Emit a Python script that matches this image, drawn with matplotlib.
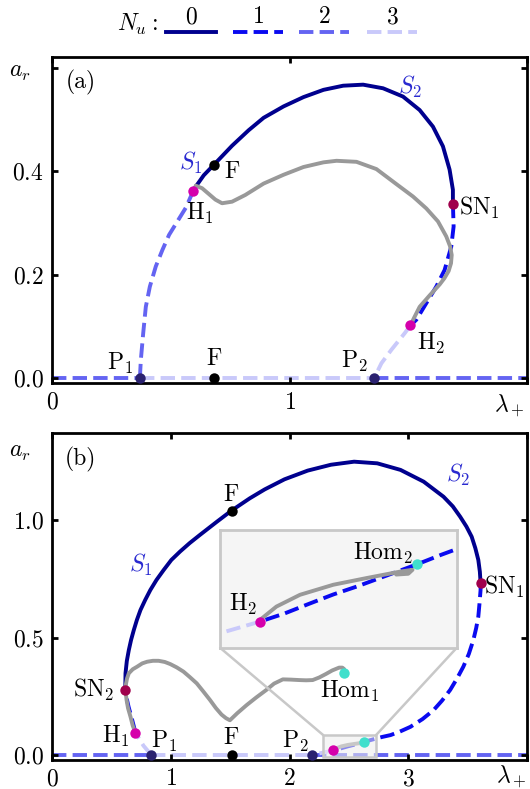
import matplotlib
matplotlib.use("Agg")
import matplotlib.pyplot as plt
from matplotlib.lines import Line2D
from matplotlib.patches import Rectangle, ConnectionPatch

plt.rcParams['font.family'] = 'serif'
plt.rcParams['font.serif'] = ['cmr10', 'DejaVu Serif']
plt.rcParams['mathtext.fontset'] = 'cm'
plt.rcParams['axes.formatter.use_mathtext'] = True

# ---------------- colours ----------------
C_NU = {0: '#00008e', 1: '#0a0af0', 2: '#6464f2', 3: '#c9c9fa'}
LS_NU = {0: '-', 1: '--', 2: '--', 3: '--'}
C_GRAY = '#999999'
C_F, C_H, C_SN, C_P, C_HOM = '#000000', '#d500ab', '#a0004c', '#2b2270', '#40dfcc'
C_S = '#2a2ad0'

# ---------------- panel (a) data ----------------
a_base_lam = [0.0, 0.370, 1.356, 2.0]
a_base_nu = [2, 3, 2]

a_p1h1_lam = [0.370, 0.374, 0.384, 0.395, 0.412, 0.437, 0.465, 0.493, 0.528, 0.563, 0.595]
a_p1h1_amp = [0.0, 0.035, 0.087, 0.138, 0.177, 0.216, 0.248, 0.277, 0.303, 0.329, 0.362]

a_h1sn1_lam = [0.595, 0.605, 0.639, 0.681, 0.758, 0.828, 0.891, 0.975, 1.059, 1.143, 1.226,
               1.310, 1.394, 1.478, 1.548, 1.604, 1.646, 1.674, 1.688, 1.688]
a_h1sn1_amp = [0.362, 0.370, 0.392, 0.412, 0.449, 0.479, 0.503, 0.525, 0.543, 0.557, 0.565,
               0.567, 0.560, 0.544, 0.518, 0.486, 0.448, 0.403, 0.364, 0.337]

a_sn1h2_lam = [1.688, 1.691, 1.681, 1.653, 1.618, 1.576, 1.534, 1.509]
a_sn1h2_amp = [0.337, 0.293, 0.254, 0.209, 0.177, 0.145, 0.113, 0.102]

a_h2p2_lam = [1.509, 1.485, 1.429, 1.387, 1.356]
a_h2p2_amp = [0.102, 0.087, 0.055, 0.029, 0.0]

a_po_lam = [0.605, 0.632, 0.660, 0.688, 0.716, 0.758, 0.814, 0.891, 0.975, 1.059, 1.143, 1.198,
            1.282, 1.366, 1.450, 1.520, 1.576, 1.625, 1.660, 1.676, 1.683, 1.680, 1.670, 1.652,
            1.632, 1.590, 1.548, 1.527, 1.513]
a_po_amp = [0.372, 0.367, 0.356, 0.345, 0.338, 0.341, 0.354, 0.376, 0.393, 0.408, 0.417, 0.420,
            0.418, 0.404, 0.375, 0.351, 0.328, 0.303, 0.274, 0.255, 0.238, 0.222, 0.207, 0.193,
            0.181, 0.160, 0.138, 0.119, 0.106]

a_pts = {  # name: (lam, amp, colour, label, offset)
    'F1': (0.681, 0.412, C_F, r'$\mathrm{F}$', (13, -5)),
    'H1': (0.595, 0.362, C_H, r'$\mathrm{H}_1$', (5, -16)),
    'P1': (0.370, 0.0, C_P, r'$\mathrm{P}_1$', (-14, 11)),
    'F0': (0.681, 0.0, C_F, r'$\mathrm{F}$', (0, 14)),
    'SN1': (1.688, 0.337, C_SN, r'$\mathrm{SN}_1$', (19, -3)),
    'H2': (1.509, 0.102, C_H, r'$\mathrm{H}_2$', (15, -13)),
    'P2': (1.356, 0.0, C_P, r'$\mathrm{P}_2$', (-14, 12)),
}

# ---------------- panel (b) data ----------------
b_base_lam = [0.0, 0.837, 2.19, 4.0]
b_base_nu = [2, 3, 2]

b_p1h1_lam = [0.837, 0.77, 0.703]
b_p1h1_amp = [0.0, 0.04, 0.095]

b_h1sn2_lam = [0.703, 0.675, 0.645, 0.625, 0.617]
b_h1sn2_amp = [0.095, 0.150, 0.205, 0.250, 0.277]

b_sn2sn1_lam = [0.617, 0.619, 0.630, 0.647, 0.666, 0.689, 0.715, 0.745, 0.785, 0.828, 0.880,
                0.940, 1.005, 1.079, 1.160, 1.247, 1.387, 1.512, 1.665, 1.791, 1.958, 2.153,
                2.349, 2.544, 2.739, 2.935, 3.130, 3.297, 3.375, 3.437, 3.490, 3.534, 3.565,
                3.590, 3.603, 3.609]
b_sn2sn1_amp = [0.277, 0.348, 0.400, 0.447, 0.490, 0.532, 0.575, 0.617, 0.660, 0.702, 0.745,
                0.787, 0.830, 0.866, 0.902, 0.937, 0.992, 1.040, 1.092, 1.130, 1.173, 1.210,
                1.235, 1.248, 1.241, 1.213, 1.163, 1.099, 1.058, 1.014, 0.972, 0.929, 0.880,
                0.830, 0.780, 0.733]

b_sn1h2_lam = [3.609, 3.609, 3.600, 3.590, 3.572, 3.548, 3.510, 3.464, 3.410, 3.353, 3.285,
               3.213, 3.120, 3.018, 2.930, 2.851, 2.780, 2.720, 2.670, 2.630, 2.580, 2.530,
               2.491, 2.450, 2.410, 2.370]
b_sn1h2_amp = [0.733, 0.702, 0.645, 0.589, 0.540, 0.489, 0.430, 0.376, 0.325, 0.277, 0.232,
               0.191, 0.153, 0.120, 0.100, 0.085, 0.077, 0.069, 0.062, 0.056, 0.049, 0.042,
               0.037, 0.031, 0.025, 0.020]

b_h2p2_lam = [2.37, 2.304, 2.25, 2.19]
b_h2p2_amp = [0.020, 0.0127, 0.007, 0.0]

b_po1_lam = [0.703, 0.680, 0.661, 0.640, 0.628, 0.620, 0.622, 0.632, 0.647, 0.680, 0.717, 0.760,
             0.801, 0.850, 0.898, 0.950, 0.996, 1.050, 1.107, 1.160, 1.219, 1.275, 1.331, 1.380,
             1.428, 1.465, 1.498, 1.560, 1.640, 1.720, 1.805, 1.870, 1.944, 2.010, 2.084, 2.140,
             2.195, 2.250, 2.307, 2.360, 2.418, 2.445, 2.460]
b_po1_amp = [0.095, 0.125, 0.163, 0.200, 0.234, 0.270, 0.300, 0.326, 0.348, 0.365, 0.376, 0.390,
             0.397, 0.401, 0.401, 0.396, 0.387, 0.373, 0.355, 0.332, 0.305, 0.270, 0.234, 0.200,
             0.172, 0.157, 0.148, 0.178, 0.213, 0.245, 0.277, 0.304, 0.322, 0.321, 0.319, 0.318,
             0.319, 0.330, 0.345, 0.360, 0.372, 0.372, 0.366]

b_po2_lam = [2.370, 2.397, 2.436, 2.491, 2.546, 2.602, 2.622, 2.615, 2.595]
b_po2_amp = [0.0211, 0.0294, 0.0368, 0.0431, 0.0473, 0.0514, 0.0525, 0.0500, 0.0495]

b_pts = {
    'F1': (1.512, 1.040, C_F, r'$\mathrm{F}$', (0, 11)),
    'SN2': (0.617, 0.277, C_SN, r'$\mathrm{SN}_2$', (-23, 0)),
    'H1': (0.703, 0.095, C_H, r'$\mathrm{H}_1$', (-14, -3)),
    'P1': (0.837, 0.0, C_P, r'$\mathrm{P}_1$', (9, 10)),
    'F0': (1.512, 0.0, C_F, r'$\mathrm{F}$', (0, 12)),
    'SN1': (3.609, 0.733, C_SN, r'$\mathrm{SN}_1$', (17, -3)),
    'Hom1': (2.460, 0.348, C_HOM, r'$\mathrm{Hom}_1$', (4, -13)),
    'P2': (2.19, 0.0, C_P, r'$\mathrm{P}_2$', (-12, 10)),
    'H2': (2.37, 0.020, C_H, None, None),
    'Hom2': (2.630, 0.056, C_HOM, None, None),
}
inset_pts = {'H2': (r'$\mathrm{H}_2$', (-12, 12)), 'Hom2': (r'$\mathrm{Hom}_2$', (-25, 8))}

LW = 2.8
MS = 7.5
FS = 17

W, H = 530, 789
fig = plt.figure(figsize=(W / 100, H / 100), dpi=100)


def px_box(x0, y0, x1, y1):
    return [x0 / W, 1 - y1 / H, (x1 - x0) / W, (y1 - y0) / H]


ax_a = fig.add_axes(px_box(52, 56.7, 527, 383.3))
ax_b = fig.add_axes(px_box(52, 433, 527, 760))


def seg(ax, lam, amp, nu, z=2):
    ax.plot(lam, amp, color=C_NU[nu], ls=LS_NU[nu], lw=LW, zorder=z, dash_capstyle='butt',
            solid_joinstyle='round')


def baseline(ax, lams, nus):
    for i, nu in enumerate(nus):
        seg(ax, [lams[i], lams[i + 1]], [0, 0], nu, z=1.5)


def style(ax):
    for s in ax.spines.values():
        s.set_linewidth(2.0)
    ax.tick_params(direction='in', length=4.5, width=2.0, top=True, right=True,
                   labelsize=FS, pad=6)


def gray(ax, lam, amp):
    ax.plot(lam, amp, color=C_GRAY, lw=LW, zorder=3, solid_capstyle='round',
            solid_joinstyle='round')


# ---- panel (a)
ax = ax_a
baseline(ax, a_base_lam, a_base_nu)
seg(ax, a_p1h1_lam, a_p1h1_amp, 2)
seg(ax, a_h1sn1_lam, a_h1sn1_amp, 0)
seg(ax, a_sn1h2_lam, a_sn1h2_amp, 1)
seg(ax, a_h2p2_lam, a_h2p2_amp, 3)
gray(ax, a_po_lam, a_po_amp)
for k, (x, y, c, lab, off) in a_pts.items():
    ax.plot(x, y, 'o', color=c, ms=MS, zorder=5, mec='none')
    ax.annotate(lab, (x, y), xytext=off, textcoords='offset points', ha='center', va='center', fontsize=FS)
ax.text(0.585, 0.415, r'$S_1$', color=C_S, fontsize=FS, ha='center', va='center')
ax.text(1.506, 0.563, r'$S_2$', color=C_S, fontsize=FS, ha='center', va='center')
ax.set_xlim(0, 2.0)
ax.set_ylim(-0.0097, 0.621)
ax.set_xticks([0, 1, 2])
ax.set_xticklabels(['$0$', '$1$', ''])
ax.set_yticks([0, 0.2, 0.4, 0.6])
ax.set_yticklabels(['$0.0$', '$0.2$', '$0.4$', ''])
style(ax)
ax.text(0.963, -0.07, r'$\lambda_+$', transform=ax.transAxes, fontsize=FS, ha='center', va='center')
ax.text(-0.068, 0.954, r'$a_r$', transform=ax.transAxes, fontsize=FS, ha='center', va='center')
ax.text(0.06, 0.92, '(a)', transform=ax.transAxes, fontsize=FS, ha='center', va='center')


# ---- panel (b)
def draw_b(ax):
    baseline(ax, b_base_lam, b_base_nu)
    seg(ax, b_p1h1_lam, b_p1h1_amp, 3)
    seg(ax, b_h1sn2_lam, b_h1sn2_amp, 1)
    seg(ax, b_sn2sn1_lam, b_sn2sn1_amp, 0)
    seg(ax, b_sn1h2_lam, b_sn1h2_amp, 1)
    seg(ax, b_h2p2_lam, b_h2p2_amp, 3)
    gray(ax, b_po1_lam, b_po1_amp)
    gray(ax, b_po2_lam, b_po2_amp)


ax = ax_b
draw_b(ax)
for k, (x, y, c, lab, off) in b_pts.items():
    ax.plot(x, y, 'o', color=c, ms=MS, zorder=6, mec='none')
    if lab:
        ax.annotate(lab, (x, y), xytext=off, textcoords='offset points', ha='center', va='center', fontsize=FS)
ax.text(0.745, 0.809, r'$S_1$', color=C_S, fontsize=FS, ha='center', va='center')
ax.text(3.423, 1.191, r'$S_2$', color=C_S, fontsize=FS, ha='center', va='center')
ax.set_xlim(0, 4.0)
ax.set_ylim(-0.021, 1.37)
ax.set_xticks([0, 1, 2, 3, 4])
ax.set_xticklabels(['$0$', '$1$', '$2$', '$3$', ''])
ax.set_yticks([0, 0.5, 1.0])
ax.set_yticklabels(['$0.0$', '$0.5$', '$1.0$'])
style(ax)
ax.text(0.966, -0.05, r'$\lambda_+$', transform=ax.transAxes, fontsize=FS, ha='center', va='center')
ax.text(-0.068, 0.943, r'$a_r$', transform=ax.transAxes, fontsize=FS, ha='center', va='center')
ax.text(0.06, 0.92, '(b)', transform=ax.transAxes, fontsize=FS, ha='center', va='center')

# zoom rectangle in main axes
rx0, rx1, ry0, ry1 = 2.284, 2.729, -0.007, 0.085
ax.add_patch(Rectangle((rx0, ry0), rx1 - rx0, ry1 - ry0, facecolor='#eeeeee', alpha=0.55,
                       edgecolor='none', zorder=4))
ax.add_patch(Rectangle((rx0, ry0), rx1 - rx0, ry1 - ry0, facecolor='none',
                       edgecolor='#c8c8c8', lw=1.8, zorder=4.1))

axins = ax.inset_axes([0.354, 0.343, 0.498, 0.361])
axins.set_facecolor('#f5f5f5')
draw_b(axins)
for k in ['H2', 'Hom2']:
    x, y, c, _, _ = b_pts[k]
    axins.plot(x, y, 'o', color=c, ms=MS, zorder=6, mec='none')
    lab, off = inset_pts[k]
    axins.annotate(lab, (x, y), xytext=off, textcoords='offset points', ha='center', va='center', fontsize=FS)
axins.set_xlim(2.304, 2.695)
axins.set_ylim(0.0035, 0.0776)
axins.set_xticks([])
axins.set_yticks([])
for s in axins.spines.values():
    s.set_color('#c8c8c8')
    s.set_linewidth(2.0)
for xa, xb in [((0, 0), (rx0, ry1)), ((1, 0), (rx1, ry1))]:
    cp = ConnectionPatch(xyA=xa, coordsA=axins.transAxes, xyB=xb, coordsB=ax.transData,
                         color='#c8c8c8', lw=1.8, zorder=3.5)
    ax.add_artist(cp)


# ---- legend (N_u)
def fpx(x, y):
    return x / W, 1 - y / H


legend_nu = [0, 1, 2, 3]
legend_x = [166, 233, 299, 367]
fig.text(*fpx(158, 24), r'$N_u:$', fontsize=FS, ha='right', va='center')
for nu, x0 in zip(legend_nu, legend_x):
    xa, ya = fpx(x0, 32)
    xb, _ = fpx(x0 + 50, 32)
    fig.add_artist(Line2D([xa, xb], [ya, ya], color=C_NU[nu], ls=LS_NU[nu], lw=LW,
                          transform=fig.transFigure, dash_capstyle='butt'))
    fig.text(*fpx(x0 + 25, 17), f'${nu}$', fontsize=FS, ha='center', va='center')

fig.savefig('out.png', dpi=100)
